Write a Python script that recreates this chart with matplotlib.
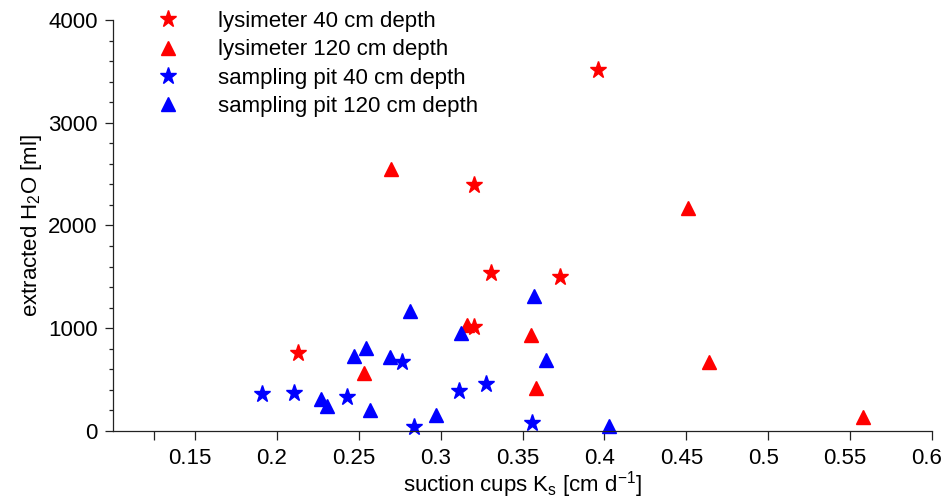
import matplotlib
matplotlib.use("Agg")
import matplotlib.pyplot as plt
from matplotlib.ticker import MultipleLocator
from matplotlib.transforms import ScaledTranslation

plt.rcParams["font.family"] = ["Liberation Sans", "DejaVu Sans"]
plt.rcParams["mathtext.fontset"] = "custom"
plt.rcParams["mathtext.rm"] = "Liberation Sans"
plt.rcParams["mathtext.it"] = "Liberation Sans:italic"

# lysimeter, 40 cm depth
lys40_ks = [0.2132, 0.3203, 0.3305, 0.3728, 0.3202, 0.3963]
lys40_h2o = [756, 1015, 1535, 1496, 2394, 3513]

# lysimeter, 120 cm depth
lys120_ks = [0.2532, 0.2695, 0.3159, 0.3553, 0.3585, 0.4512, 0.4636, 0.5577]
lys120_h2o = [567, 2550, 1032, 934, 422, 2170, 674, 133]

# sampling pit, 40 cm depth
pit40_ks = [0.1910, 0.2102, 0.2427, 0.2762, 0.2837, 0.3114, 0.3276, 0.3559]
pit40_h2o = [357, 367, 328, 675, 42, 392, 457, 75]

# sampling pit, 120 cm depth
pit120_ks = [0.2272, 0.2305, 0.2472, 0.2543, 0.2569, 0.2691, 0.2813,
             0.2974, 0.3122, 0.3569, 0.3646, 0.4026]
pit120_h2o = [308, 243, 730, 805, 204, 717, 1168, 156, 957, 1317, 691, 50]

x_ticks = [0.15, 0.2, 0.25, 0.3, 0.35, 0.4, 0.45, 0.5, 0.55, 0.6]
x_tick_labels = ["0.15", "0.2", "0.25", "0.3", "0.35", "0.4", "0.45", "0.5", "0.55", "0.6"]
y_ticks = [0, 1000, 2000, 3000, 4000]

FS = 16

fig = plt.figure(figsize=(9.46, 4.99), dpi=100)
ax = fig.add_axes([113 / 946, 1 - 431 / 499, 819 / 946, 411 / 499])

star = dict(marker="*", markersize=12.5, linestyle="none", clip_on=False)
tri = dict(marker="^", markersize=10, linestyle="none", clip_on=False)

ax.plot(lys40_ks, lys40_h2o, color="#ff0000", label="lysimeter 40 cm depth", **star)
ax.plot(lys120_ks, lys120_h2o, color="#ff0000", label="lysimeter 120 cm depth", **tri)
ax.plot(pit40_ks, pit40_h2o, color="#0000ff", label="sampling pit 40 cm depth", **star)
ax.plot(pit120_ks, pit120_h2o, color="#0000ff", label="sampling pit 120 cm depth", **tri)

ax.set_xlim(0.1, 0.6)
ax.set_ylim(0, 4000)
ax.set_xticks(x_ticks)
ax.set_xticklabels(x_tick_labels)
ax.set_xticks([0.125], minor=True)
ax.set_yticks(y_ticks)
ax.yaxis.set_minor_locator(MultipleLocator(200))

for side in ("top", "right"):
    ax.spines[side].set_visible(False)
for side in ("left", "bottom"):
    ax.spines[side].set_linewidth(0.9)
    ax.spines[side].set_color("#222222")

ax.tick_params(axis="x", which="both", direction="out", length=6.5, width=0.9,
               color="#222222", labelsize=FS, pad=6)
ax.tick_params(axis="y", which="major", direction="out", length=6, width=0.9,
               color="#222222", labelsize=FS, pad=5)
ax.tick_params(axis="y", which="minor", direction="out", length=3, width=0.9,
               color="#222222")

# tick labels in the original sit a little left of their ticks
shift = ScaledTranslation(-5 / 100, 0, fig.dpi_scale_trans)
for lbl in ax.get_xticklabels():
    lbl.set_transform(lbl.get_transform() + shift)

ax.set_xlabel(r"suction cups K$\mathregular{_s}$ [cm d$\mathregular{^{-1}}$]",
              fontsize=FS, labelpad=0)
ax.set_ylabel(r"extracted H$\mathregular{_2}$O [ml]", fontsize=FS, labelpad=3)

ax.legend(loc="upper left", bbox_to_anchor=(146 / 946, 1 - 11 / 499),
          bbox_transform=fig.transFigure, frameon=False, numpoints=1,
          fontsize=FS, handlelength=2, handletextpad=1.25,
          labelspacing=0.33, borderpad=0, borderaxespad=0)

fig.savefig("out.png", dpi=100)
